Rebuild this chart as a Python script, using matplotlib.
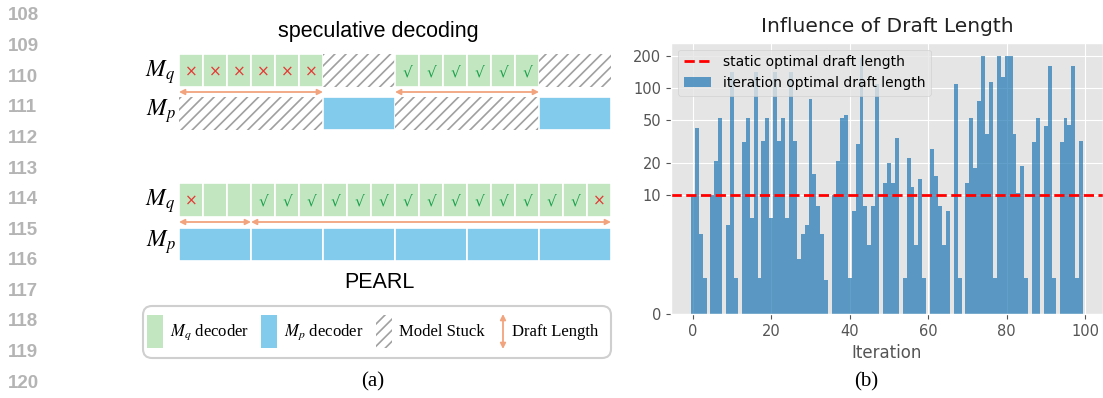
import numpy as np
import matplotlib
import matplotlib.pyplot as plt
from matplotlib.patches import Rectangle, FancyBboxPatch

plt.style.use('ggplot')
plt.rcParams['mathtext.fontset'] = 'stix'
plt.rcParams['hatch.color'] = '#a0a0a0'
plt.rcParams['hatch.linewidth'] = 1.2

W, H = 1103, 398

# ---- (b) optimal draft length per iteration ----
iterations = np.arange(100)
optimal_draft = [10, 42, 6.7, 3, 0, 10, 21, 53, 0, 7.5,
                 140, 3, 0, 31, 53, 8.1, 140, 3, 32, 53,
                 8.1, 140, 32, 53, 8.1, 140, 32, 4.6, 6.7, 7.5,
                 79, 15.6, 9.1, 6.7, 2.9, 0, 10, 21, 53, 56,
                 3, 8.7, 30, 190, 9.1, 5.8, 9.1, 108, 0, 13,
                 20, 13, 34, 0, 3, 22, 12, 5.8, 14, 3,
                 0, 27, 15, 9.1, 5.8, 8.7, 0, 110, 3, 0,
                 13, 52, 18, 75, 200, 37, 113, 3, 200, 126,
                 200, 200, 37, 10.5, 18.6, 3, 0, 31, 53, 0,
                 44, 160, 3, 0, 31, 53, 45, 160, 3, 32]
static_optimal = 10
y_ticks = [0, 10, 20, 50, 100, 200]
x_ticks = [0, 20, 40, 60, 80, 100]

# ---- (a) diagram: blocks per row ----
spec_q_kinds = ['draft', 'stuck', 'draft', 'stuck']
spec_q_sizes = [6, 3, 6, 3]
spec_q_marks = ['×'] * 6 + [''] * 3 + ['√'] * 6 + [''] * 3
spec_p_kinds = ['stuck', 'verify', 'stuck', 'verify']
spec_p_sizes = [6, 3, 6, 3]
spec_drafts = [(0, 6), (9, 6)]

pearl_q_kinds = ['draft']
pearl_q_sizes = [18]
pearl_q_marks = ['×', '', ''] + ['√'] * 14 + ['×']
pearl_p_kinds = ['verify'] * 6
pearl_p_sizes = [3] * 6
pearl_drafts = [(0, 3), (3, 15)]

green = '#c2e6c0'
blue = '#82cbec'
orange = '#f2a47e'

fig = plt.figure(figsize=(W / 100, H / 100), dpi=100)

# pixel overlay for frame pieces
pax = fig.add_axes([0, 0, 1, 1])
pax.set_xlim(0, W)
pax.set_ylim(H, 0)
pax.axis('off')

# line numbers
for k, n in enumerate(range(108, 121)):
    pax.text(8, 16 + k * 30.6, str(n), fontsize=13.5, fontweight='bold',
             color='#b4b4b4', family='Liberation Sans', va='center', ha='left')

# diagram axes, x in cells
dax = fig.add_axes([179 / W, 0, 432 / W, 1])
dax.set_xlim(0, 18)
dax.set_ylim(H, 0)
dax.axis('off')


def draw_row(top, height, kinds, sizes, marks=None):
    start = 0
    for kind, size in zip(kinds, sizes):
        if kind == 'draft':
            for c in range(start, start + size):
                dax.add_patch(Rectangle((c, top), 1, height, facecolor=green,
                                        edgecolor='white', lw=1.2))
        elif kind == 'verify':
            dax.add_patch(Rectangle((start, top), size, height, facecolor=blue,
                                    edgecolor='white', lw=1.2))
        else:
            dax.add_patch(Rectangle((start, top), size, height, facecolor='white',
                                    edgecolor='#a0a0a0', lw=0, hatch='///'))
        start += size
    if marks:
        for c, m in enumerate(marks):
            if m:
                col = '#e53935' if m == '×' else '#1ea24f'
                dax.text(c + 0.5, top + height / 2 + 1, m, color=col, fontsize=11,
                         ha='center', va='center')


def draw_drafts(y, drafts):
    for s, n in drafts:
        dax.annotate('', xy=(s, y), xytext=(s + n, y),
                     arrowprops=dict(arrowstyle='<|-|>', color=orange, lw=1.3,
                                     mutation_scale=8, shrinkA=0, shrinkB=0))


def label(y, txt):
    dax.text(-0.15, y, txt, fontsize=17, ha='right', va='center')


sans = dict(fontsize=15.5, ha='center', va='center', family='Liberation Sans')
pax.text(378, 31, 'speculative decoding', **sans)
draw_row(54, 33, spec_q_kinds, spec_q_sizes, spec_q_marks)
draw_drafts(92, spec_drafts)
draw_row(97, 33, spec_p_kinds, spec_p_sizes)
label(72, '$M_q$')
label(111, '$M_p$')

dax.annotate('', xy=(18.05, 152), xytext=(-1.5, 152),
             arrowprops=dict(arrowstyle='-|>', color='black', lw=1.3,
                             mutation_scale=10, shrinkA=0, shrinkB=0))

draw_row(183, 34, pearl_q_kinds, pearl_q_sizes, pearl_q_marks)
draw_drafts(222, pearl_drafts)
draw_row(228, 33, pearl_p_kinds, pearl_p_sizes)
label(201, '$M_q$')
label(242, '$M_p$')
pax.text(379, 283, 'PEARL', **sans)

# legend box of (a)
pax.add_patch(FancyBboxPatch((143, 306), 468, 52, boxstyle='round,pad=0,rounding_size=9',
                             facecolor='white', edgecolor='#cfcfcf', lw=1.5))
ly = 332
pax.add_patch(Rectangle((147, 315), 16, 33, facecolor=green, lw=0))
pax.add_patch(Rectangle((261, 315), 16, 33, facecolor=blue, lw=0))
pax.add_patch(Rectangle((376, 315), 16, 33, facecolor='white', edgecolor='#a0a0a0',
                        lw=0, hatch='///'))
pax.annotate('', xy=(503, 314), xytext=(503, 349),
             arrowprops=dict(arrowstyle='<|-|>', color=orange, lw=1.3,
                             mutation_scale=8, shrinkA=0, shrinkB=0))
serif = dict(fontsize=12, va='center', ha='left', family='Liberation Serif')
pax.text(170, ly, '$M_q$ decoder', **serif)
pax.text(284, ly, '$M_p$ decoder', **serif)
pax.text(399, ly, 'Model Stuck', **serif)
pax.text(512, ly, 'Draft Length', **serif)

pax.text(373, 382, '(a)', fontsize=15, ha='center', va='center', family='Liberation Serif')
pax.text(866, 382, '(b)', fontsize=15, ha='center', va='center', family='Liberation Serif')

# ---- (b) chart ----
ax = fig.add_axes([671.2 / W, 84 / H, 431.6 / W, 271.3 / H])
ax.bar(iterations, optimal_draft, width=1.0, color='#1f77b4', alpha=0.7,
       label='iteration optimal draft length')
ax.axhline(static_optimal, color='red', linestyle='--', lw=2,
           label='static optimal draft length')
ax.set_yscale('symlog', linthresh=10)
ax.set_ylim(0, 265)
ax.set_xlim(-5.5, 104.5)
ax.set_yticks(y_ticks)
ax.set_yticklabels([str(t) for t in y_ticks])
ax.yaxis.set_minor_locator(matplotlib.ticker.NullLocator())
ax.set_xticks(x_ticks)
ax.tick_params(labelsize=10.5)
ax.set_title('Influence of Draft Length', fontsize=14.5, color='#222222', pad=8)
ax.set_xlabel('Iteration', fontsize=12)
h, l = ax.get_legend_handles_labels()
order = [l.index('static optimal draft length'), l.index('iteration optimal draft length')]
ax.legend([h[i] for i in order], [l[i] for i in order], loc='upper left', fontsize=10)

fig.savefig('out.png', dpi=100)
